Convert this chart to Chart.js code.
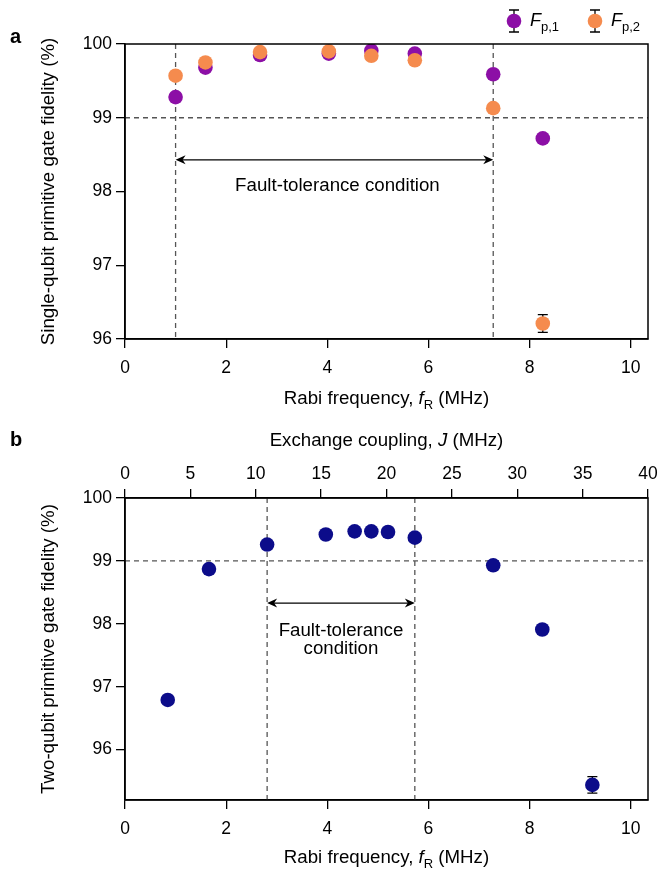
<!DOCTYPE html>
<html>
<head>
<meta charset="utf-8">
<script src="https://cdn.jsdelivr.net/npm/chart.js@4.4.1/dist/chart.umd.min.js"></script>
<style>
  body { margin: 0; background: #fff; }
  #wrap { position: relative; width: 659px; height: 871px; }
  canvas { position: absolute; left: 0; }
</style>
</head>
<body>
<div id="wrap">
  <canvas id="chartA" width="659" height="420" style="top:0"></canvas>
  <canvas id="chartB" width="659" height="451" style="top:420px"></canvas>
</div>
<script>
// panel a - single-qubit primitive gates
const rabiA = [1.0, 1.59, 2.67, 4.03, 4.87, 5.73, 7.28, 8.26];
const fidP1 = [99.28, 99.68, 99.85, 99.87, 99.91, 99.87, 99.59, 98.72];
const fidP2 = [99.57, 99.75, 99.89, 99.90, 99.84, 99.78, 99.13, 96.21];
const errP1 = [0.03, 0.02, 0.02, 0.02, 0.02, 0.02, 0.03, 0.05];
const errP2 = [0.03, 0.02, 0.02, 0.02, 0.02, 0.02, 0.04, 0.12];
const ftBoundsA = [1.0, 7.28];

// panel b - two-qubit primitive gate
const rabiB = [0.845, 1.66, 2.81, 3.97, 4.54, 4.87, 5.20, 5.73, 7.28, 8.25, 9.24];
const fidTwo = [96.79, 98.87, 99.26, 99.42, 99.47, 99.47, 99.46, 99.37, 98.93, 97.91, 95.44];
const errTwo = [0.04, 0.03, 0.02, 0.02, 0.02, 0.02, 0.02, 0.02, 0.03, 0.04, 0.13];
const ftBoundsB = [2.81, 5.73];

const rabiTicks = [0, 2, 4, 6, 8, 10];
const jTicks = [0, 5, 10, 15, 20, 25, 30, 35, 40];
const fidTicks = [96, 97, 98, 99, 100];
const threshold = 99;

const FONT = '"Liberation Sans", Arial, Helvetica, sans-serif';
const PURPLE = '#8c0fa6';
const ORANGE = '#f58b4e';
const NAVY = '#0c0c8a';
const TXT = 18.7;
Chart.defaults.font.family = FONT;
Chart.defaults.color = '#000';

function axis(min, max, ticks, extra) {
  return Object.assign({
    type: 'linear', min: min, max: max,
    afterBuildTicks: s => { s.ticks = ticks.map(v => ({ value: v })); },
    grid: { drawOnChartArea: false, drawTicks: true, tickLength: 9, color: '#000', lineWidth: 1.3 },
    border: { display: true, color: '#000', width: 1.5 },
    ticks: { font: { size: 17.5 }, color: '#000', padding: 4, maxRotation: 0, autoSkip: false }
  }, extra);
}

// fixed axis box height, no extra room for overhanging end labels
function fitX(h) {
  return s => { s.height = h; s.paddingLeft = 0; s.paddingRight = 0; };
}

function drawRich(ctx, parts, x, y, size, angle) {
  ctx.save();
  ctx.translate(x, y);
  ctx.rotate(angle || 0);
  ctx.textBaseline = 'middle';
  ctx.textAlign = 'left';
  ctx.fillStyle = '#000';
  const fontOf = p => (p.italic ? 'italic ' : '') + (p.sub ? Math.round(size * 0.72) : size) + 'px ' + FONT;
  let w = 0;
  parts.forEach(p => { ctx.font = fontOf(p); w += ctx.measureText(p.t).width; });
  let cx = -w / 2;
  parts.forEach(p => {
    ctx.font = fontOf(p);
    ctx.fillText(p.t, cx, p.sub ? size * 0.32 : 0);
    cx += ctx.measureText(p.t).width;
  });
  ctx.restore();
}

function dashed(ctx, x1, y1, x2, y2) {
  ctx.save();
  ctx.strokeStyle = '#555';
  ctx.lineWidth = 1.3;
  ctx.setLineDash([5, 4]);
  ctx.beginPath();
  ctx.moveTo(x1, y1);
  ctx.lineTo(x2, y2);
  ctx.stroke();
  ctx.restore();
}

function arrow(ctx, x1, x2, y) {
  ctx.save();
  ctx.strokeStyle = '#000';
  ctx.fillStyle = '#000';
  ctx.lineWidth = 1.3;
  ctx.beginPath();
  ctx.moveTo(x1 + 4, y);
  ctx.lineTo(x2 - 4, y);
  ctx.stroke();
  [[x1, 1], [x2, -1]].forEach(([x, d]) => {
    ctx.beginPath();
    ctx.moveTo(x, y);
    ctx.lineTo(x + d * 10, y - 4.5);
    ctx.lineTo(x + d * 7, y);
    ctx.lineTo(x + d * 10, y + 4.5);
    ctx.closePath();
    ctx.fill();
  });
  ctx.restore();
}

function errorBars(ctx, xs, ys, es, sx, sy) {
  ctx.save();
  ctx.strokeStyle = '#000';
  ctx.lineWidth = 1.3;
  xs.forEach((x, i) => {
    const px = sx.getPixelForValue(x);
    const top = sy.getPixelForValue(ys[i] + es[i]);
    const bot = sy.getPixelForValue(ys[i] - es[i]);
    ctx.beginPath();
    ctx.moveTo(px, top); ctx.lineTo(px, bot);
    ctx.moveTo(px - 5, top); ctx.lineTo(px + 5, top);
    ctx.moveTo(px - 5, bot); ctx.lineTo(px + 5, bot);
    ctx.stroke();
  });
  ctx.restore();
}

function frame(ctx, a) {
  ctx.save();
  ctx.strokeStyle = '#000';
  ctx.lineWidth = 1.5;
  ctx.strokeRect(a.left, a.top, a.right - a.left, a.bottom - a.top);
  ctx.restore();
}

const rabiTitle = [{ t: 'Rabi frequency, ' }, { t: 'f', italic: true }, { t: 'R', sub: true }, { t: ' (MHz)' }];
const bottomTicks = { font: { size: 17.5 }, color: '#000', padding: 10, maxRotation: 0, autoSkip: false };

// ---------- panel a ----------
const decorA = {
  id: 'decorA',
  beforeDatasetsDraw(chart) {
    const { ctx, chartArea: a, scales: { x, y } } = chart;
    dashed(ctx, a.left, y.getPixelForValue(threshold), a.right, y.getPixelForValue(threshold));
    ftBoundsA.forEach(v => dashed(ctx, x.getPixelForValue(v), a.top, x.getPixelForValue(v), a.bottom));
    errorBars(ctx, rabiA, fidP1, errP1, x, y);
    errorBars(ctx, rabiA, fidP2, errP2, x, y);
  },
  afterDraw(chart) {
    const { ctx, chartArea: a, scales: { x, y } } = chart;
    frame(ctx, a);
    arrow(ctx, x.getPixelForValue(ftBoundsA[0]), x.getPixelForValue(ftBoundsA[1]), y.getPixelForValue(98.43));
    drawRich(ctx, [{ t: 'Fault-tolerance condition' }], x.getPixelForValue(4.2), y.getPixelForValue(98.07), TXT);
    drawRich(ctx, rabiTitle, (a.left + a.right) / 2, 399, TXT);
    drawRich(ctx, [{ t: 'Single-qubit primitive gate fidelity (%)' }], 49, (a.top + a.bottom) / 2, TXT, -Math.PI / 2);
    // panel letter
    ctx.save();
    ctx.font = 'bold 20px ' + FONT;
    ctx.textBaseline = 'middle';
    ctx.fillStyle = '#000';
    ctx.fillText('a', 10, 37);
    ctx.restore();
    // legend
    [[514, PURPLE, '1'], [595, ORANGE, '2']].forEach(([lx, col, k]) => {
      ctx.save();
      ctx.strokeStyle = '#000';
      ctx.lineWidth = 1.3;
      ctx.beginPath();
      ctx.moveTo(lx, 10); ctx.lineTo(lx, 32);
      ctx.moveTo(lx - 5, 10); ctx.lineTo(lx + 5, 10);
      ctx.moveTo(lx - 5, 32); ctx.lineTo(lx + 5, 32);
      ctx.stroke();
      ctx.fillStyle = col;
      ctx.beginPath();
      ctx.arc(lx, 21, 7.3, 0, Math.PI * 2);
      ctx.fill();
      ctx.restore();
      ctx.save();
      ctx.fillStyle = '#000';
      ctx.textBaseline = 'middle';
      ctx.font = 'italic 18px ' + FONT;
      ctx.fillText('F', lx + 16, 21);
      const fw = ctx.measureText('F').width;
      ctx.font = '13px ' + FONT;
      ctx.fillText('p,' + k, lx + 16 + fw, 27);
      ctx.restore();
    });
  }
};

new Chart(document.getElementById('chartA'), {
  type: 'scatter',
  data: {
    datasets: [
      { label: 'Fp,1', data: rabiA.map((v, i) => ({ x: v, y: fidP1[i] })), backgroundColor: PURPLE, pointRadius: 7.3, pointBorderWidth: 0, order: 2 },
      { label: 'Fp,2', data: rabiA.map((v, i) => ({ x: v, y: fidP2[i] })), backgroundColor: ORANGE, pointRadius: 7.3, pointBorderWidth: 0, order: 1 }
    ]
  },
  options: {
    responsive: false,
    animation: false,
    layout: { padding: { left: 0, right: 11, top: 44, bottom: 0 } },
    plugins: { legend: { display: false }, tooltip: { enabled: false } },
    scales: {
      x: axis(0, 10.34, rabiTicks, { afterFit: fitX(81), ticks: bottomTicks }),
      y: axis(96, 100, fidTicks, { afterFit: s => { s.width = 125; } })
    }
  },
  plugins: [decorA]
});

// ---------- panel b ----------
const decorB = {
  id: 'decorB',
  beforeDatasetsDraw(chart) {
    const { ctx, chartArea: a, scales: { x, y } } = chart;
    dashed(ctx, a.left, y.getPixelForValue(threshold), a.right, y.getPixelForValue(threshold));
    ftBoundsB.forEach(v => dashed(ctx, x.getPixelForValue(v), a.top, x.getPixelForValue(v), a.bottom));
    errorBars(ctx, rabiB, fidTwo, errTwo, x, y);
  },
  afterDraw(chart) {
    const { ctx, chartArea: a, scales: { x, y } } = chart;
    frame(ctx, a);
    arrow(ctx, x.getPixelForValue(ftBoundsB[0]), x.getPixelForValue(ftBoundsB[1]), y.getPixelForValue(98.33));
    drawRich(ctx, [{ t: 'Fault-tolerance' }], x.getPixelForValue(4.27), y.getPixelForValue(97.89), TXT);
    drawRich(ctx, [{ t: 'condition' }], x.getPixelForValue(4.27), y.getPixelForValue(97.61), TXT);
    drawRich(ctx, rabiTitle, (a.left + a.right) / 2, 438, TXT);
    drawRich(ctx, [{ t: 'Exchange coupling, ' }, { t: 'J', italic: true }, { t: ' (MHz)' }], (a.left + a.right) / 2, 21, TXT);
    drawRich(ctx, [{ t: 'Two-qubit primitive gate fidelity (%)' }], 49, (a.top + a.bottom) / 2, TXT, -Math.PI / 2);
    ctx.save();
    ctx.font = 'bold 20px ' + FONT;
    ctx.textBaseline = 'middle';
    ctx.fillStyle = '#000';
    ctx.fillText('b', 10, 20);
    ctx.restore();
  }
};

new Chart(document.getElementById('chartB'), {
  type: 'scatter',
  data: {
    datasets: [
      { label: 'two-qubit', data: rabiB.map((v, i) => ({ x: v, y: fidTwo[i] })), backgroundColor: NAVY, pointRadius: 7.3, pointBorderWidth: 0, xAxisID: 'x', yAxisID: 'y' }
    ]
  },
  options: {
    responsive: false,
    animation: false,
    layout: { padding: { left: 0, right: 11, top: 0, bottom: 0 } },
    plugins: { legend: { display: false }, tooltip: { enabled: false } },
    scales: {
      x: axis(0, 10.34, rabiTicks, { position: 'bottom', afterFit: fitX(71), ticks: bottomTicks }),
      x2: axis(0, 40, jTicks, { position: 'top', afterFit: fitX(78) }),
      y: axis(95.2, 100, fidTicks, { afterFit: s => { s.width = 125; } })
    }
  },
  plugins: [decorB]
});
</script>
</body>
</html>
